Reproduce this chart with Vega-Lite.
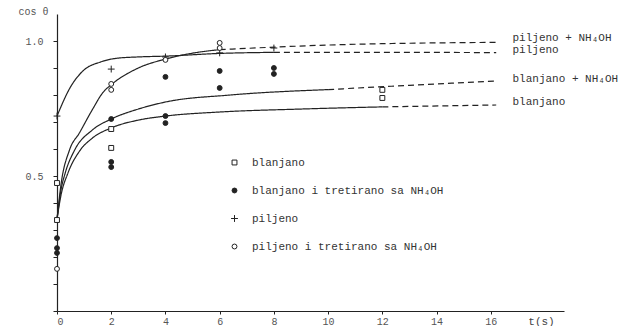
{
  "$schema": "https://vega.github.io/schema/vega-lite/v6.json",
  "width": 507,
  "height": 297,
  "autosize": {"type": "none"},
  "padding": {"left": 57, "top": 14, "right": 74, "bottom": 15},
  "background": "white",
  "config": {"view": {"stroke": null}, "font": "Liberation Mono"},
  "datasets": {
    "curves": [
      {"series": "piljeno", "part": "solid", "t": 0, "v": 0.722},
      {"series": "piljeno", "part": "solid", "t": 0.5, "v": 0.83},
      {"series": "piljeno", "part": "solid", "t": 1.0, "v": 0.893},
      {"series": "piljeno", "part": "solid", "t": 1.6, "v": 0.922},
      {"series": "piljeno", "part": "solid", "t": 2.2, "v": 0.936},
      {"series": "piljeno", "part": "solid", "t": 3.0, "v": 0.941},
      {"series": "piljeno", "part": "solid", "t": 4.0, "v": 0.944},
      {"series": "piljeno", "part": "solid", "t": 6.0, "v": 0.954},
      {"series": "piljeno", "part": "solid", "t": 8.0, "v": 0.958},
      {"series": "piljeno", "part": "dashed", "t": 8.0, "v": 0.958},
      {"series": "piljeno", "part": "dashed", "t": 12.0, "v": 0.958},
      {"series": "piljeno", "part": "dashed", "t": 16.2, "v": 0.957},
      {"series": "piljeno NH4OH", "part": "solid", "t": 0, "v": 0.34},
      {"series": "piljeno NH4OH", "part": "solid", "t": 0.15, "v": 0.47},
      {"series": "piljeno NH4OH", "part": "solid", "t": 0.46, "v": 0.596},
      {"series": "piljeno NH4OH", "part": "solid", "t": 0.83, "v": 0.66},
      {"series": "piljeno NH4OH", "part": "solid", "t": 1.3, "v": 0.745},
      {"series": "piljeno NH4OH", "part": "solid", "t": 1.7, "v": 0.81},
      {"series": "piljeno NH4OH", "part": "solid", "t": 2.0, "v": 0.838},
      {"series": "piljeno NH4OH", "part": "solid", "t": 3.0, "v": 0.9},
      {"series": "piljeno NH4OH", "part": "solid", "t": 4.0, "v": 0.933},
      {"series": "piljeno NH4OH", "part": "solid", "t": 5.0, "v": 0.955},
      {"series": "piljeno NH4OH", "part": "solid", "t": 6.0, "v": 0.968},
      {"series": "piljeno NH4OH", "part": "dashed", "t": 6.0, "v": 0.968},
      {"series": "piljeno NH4OH", "part": "dashed", "t": 10.0, "v": 0.985},
      {"series": "piljeno NH4OH", "part": "dashed", "t": 16.2, "v": 0.995},
      {"series": "blanjano NH4OH", "part": "solid", "t": 0, "v": 0.34},
      {"series": "blanjano NH4OH", "part": "solid", "t": 0.15, "v": 0.45},
      {"series": "blanjano NH4OH", "part": "solid", "t": 0.3, "v": 0.51},
      {"series": "blanjano NH4OH", "part": "solid", "t": 0.65, "v": 0.596},
      {"series": "blanjano NH4OH", "part": "solid", "t": 1.3, "v": 0.67},
      {"series": "blanjano NH4OH", "part": "solid", "t": 2.0, "v": 0.711},
      {"series": "blanjano NH4OH", "part": "solid", "t": 3.0, "v": 0.748},
      {"series": "blanjano NH4OH", "part": "solid", "t": 4.0, "v": 0.774},
      {"series": "blanjano NH4OH", "part": "solid", "t": 6.4, "v": 0.8},
      {"series": "blanjano NH4OH", "part": "solid", "t": 10.0, "v": 0.82},
      {"series": "blanjano NH4OH", "part": "dashed", "t": 10.0, "v": 0.82},
      {"series": "blanjano NH4OH", "part": "dashed", "t": 13.0, "v": 0.836},
      {"series": "blanjano NH4OH", "part": "dashed", "t": 16.2, "v": 0.852},
      {"series": "blanjano", "part": "solid", "t": 0, "v": 0.34},
      {"series": "blanjano", "part": "solid", "t": 0.15, "v": 0.43},
      {"series": "blanjano", "part": "solid", "t": 0.4, "v": 0.51},
      {"series": "blanjano", "part": "solid", "t": 0.83, "v": 0.592},
      {"series": "blanjano", "part": "solid", "t": 1.3, "v": 0.64},
      {"series": "blanjano", "part": "solid", "t": 2.0, "v": 0.678},
      {"series": "blanjano", "part": "solid", "t": 3.0, "v": 0.707},
      {"series": "blanjano", "part": "solid", "t": 4.0, "v": 0.722},
      {"series": "blanjano", "part": "solid", "t": 6.0, "v": 0.737},
      {"series": "blanjano", "part": "solid", "t": 9.0, "v": 0.748},
      {"series": "blanjano", "part": "solid", "t": 12.0, "v": 0.756},
      {"series": "blanjano", "part": "dashed", "t": 12.0, "v": 0.756},
      {"series": "blanjano", "part": "dashed", "t": 16.2, "v": 0.763}
    ],
    "points": [
      {"series": "blanjano", "t": 0, "v": 0.474},
      {"series": "blanjano", "t": 0, "v": 0.337},
      {"series": "blanjano", "t": 2, "v": 0.674},
      {"series": "blanjano", "t": 2, "v": 0.604},
      {"series": "blanjano", "t": 12, "v": 0.819},
      {"series": "blanjano", "t": 12, "v": 0.789},
      {"series": "blanjano i tretirano sa NH₄OH", "t": 0, "v": 0.27},
      {"series": "blanjano i tretirano sa NH₄OH", "t": 0, "v": 0.233},
      {"series": "blanjano i tretirano sa NH₄OH", "t": 0, "v": 0.215},
      {"series": "blanjano i tretirano sa NH₄OH", "t": 2, "v": 0.711},
      {"series": "blanjano i tretirano sa NH₄OH", "t": 2, "v": 0.552},
      {"series": "blanjano i tretirano sa NH₄OH", "t": 2, "v": 0.533},
      {"series": "blanjano i tretirano sa NH₄OH", "t": 4, "v": 0.867},
      {"series": "blanjano i tretirano sa NH₄OH", "t": 4, "v": 0.722},
      {"series": "blanjano i tretirano sa NH₄OH", "t": 4, "v": 0.696},
      {"series": "blanjano i tretirano sa NH₄OH", "t": 6, "v": 0.889},
      {"series": "blanjano i tretirano sa NH₄OH", "t": 6, "v": 0.826},
      {"series": "blanjano i tretirano sa NH₄OH", "t": 8, "v": 0.9},
      {"series": "blanjano i tretirano sa NH₄OH", "t": 8, "v": 0.878},
      {"series": "piljeno", "t": 0, "v": 0.722},
      {"series": "piljeno", "t": 2, "v": 0.896},
      {"series": "piljeno", "t": 4, "v": 0.941},
      {"series": "piljeno", "t": 6, "v": 0.956},
      {"series": "piljeno", "t": 8, "v": 0.974},
      {"series": "piljeno i tretirano sa NH₄OH", "t": 0, "v": 0.156},
      {"series": "piljeno i tretirano sa NH₄OH", "t": 2, "v": 0.841},
      {"series": "piljeno i tretirano sa NH₄OH", "t": 2, "v": 0.819},
      {"series": "piljeno i tretirano sa NH₄OH", "t": 4, "v": 0.93},
      {"series": "piljeno i tretirano sa NH₄OH", "t": 6, "v": 0.993},
      {"series": "piljeno i tretirano sa NH₄OH", "t": 6, "v": 0.974}
    ],
    "labels": [
      {"label": "piljeno + NH₄OH", "t": 16.8, "v": 1.012},
      {"label": "piljeno", "t": 16.8, "v": 0.965},
      {"label": "blanjano + NH₄OH", "t": 16.8, "v": 0.859},
      {"label": "blanjano", "t": 16.8, "v": 0.774}
    ]
  },
  "encoding": {
    "x": {
      "field": "t", "type": "quantitative",
      "scale": {"domain": [0, 18.7], "nice": false, "zero": false},
      "axis": {
        "values": [0, 2, 4, 6, 8, 10, 12, 14, 16], "format": "d", "grid": false,
        "domainColor": "#222", "domainWidth": 1.2, "tickColor": "#222", "tickSize": 3,
        "labelFont": "Liberation Mono", "labelFontSize": 10, "labelColor": "#555", "labelPadding": 2,
        "title": "t(s)", "titleX": 484, "titleY": 10, "titleFont": "Liberation Mono", "titleFontSize": 11,
        "titleFontWeight": "normal", "titleColor": "#444", "titleBaseline": "middle", "titleAlign": "center"
      }
    },
    "y": {
      "field": "v", "type": "quantitative",
      "scale": {"domain": [0, 1.1], "nice": false},
      "axis": {
        "values": [0, 0.1, 0.2, 0.3, 0.4, 0.5, 0.6, 0.7, 0.8, 0.9, 1.0],
        "labelExpr": "datum.value == 0.5 ? '0.5' : (datum.value == 1 ? '1.0' : '')",
        "grid": false, "domainColor": "#222", "domainWidth": 1.2, "tickColor": "#222", "tickSize": 4,
        "labelFont": "Liberation Mono", "labelFontSize": 10, "labelColor": "#555", "labelPadding": 10,
        "title": "cos θ", "titleAngle": 0, "titleX": -24, "titleY": -3, "titleFont": "Liberation Mono",
        "titleFontSize": 10, "titleFontWeight": "normal", "titleColor": "#555", "titleBaseline": "middle", "titleAlign": "center"
      }
    }
  },
  "layer": [
    {
      "data": {"name": "curves"},
      "mark": {"type": "line", "interpolate": "monotone", "stroke": "#222", "strokeWidth": 1.2},
      "encoding": {
        "detail": {"field": "series"},
        "strokeDash": {"field": "part", "type": "nominal", "scale": {"domain": ["solid", "dashed"], "range": [[1, 0], [6, 4]]}, "legend": null}
      }
    },
    {
      "data": {"name": "points"},
      "mark": {"type": "point", "strokeWidth": 1, "opacity": 1, "size": 24},
      "encoding": {
        "shape": {
          "field": "series", "type": "nominal",
          "scale": {
            "domain": ["blanjano", "blanjano i tretirano sa NH₄OH", "piljeno", "piljeno i tretirano sa NH₄OH"],
            "range": ["square", "circle", "M-1.4,0L1.4,0M0,-1.4L0,1.4", "circle"]
          },
          "legend": {
            "orient": "none", "legendX": 172, "legendY": 143, "title": null, "labelLimit": 0,
            "labelFont": "Liberation Mono", "labelFontSize": 11, "labelColor": "#333", "rowPadding": 16,
            "symbolSize": 24, "symbolStrokeWidth": 1, "labelOffset": 12
          }
        },
        "fill": {
          "field": "series", "type": "nominal",
          "scale": {
            "domain": ["blanjano", "blanjano i tretirano sa NH₄OH", "piljeno", "piljeno i tretirano sa NH₄OH"],
            "range": ["white", "#222", "#222", "white"]
          },
          "legend": {
            "orient": "none", "legendX": 172, "legendY": 143, "title": null, "labelLimit": 0,
            "labelFont": "Liberation Mono", "labelFontSize": 11, "labelColor": "#333", "rowPadding": 16,
            "symbolSize": 24, "symbolStrokeWidth": 1, "labelOffset": 12
          }
        },
        "stroke": {
          "field": "series", "type": "nominal",
          "scale": {
            "domain": ["blanjano", "blanjano i tretirano sa NH₄OH", "piljeno", "piljeno i tretirano sa NH₄OH"],
            "range": ["#222", "#222", "#222", "#222"]
          },
          "legend": {
            "orient": "none", "legendX": 172, "legendY": 143, "title": null, "labelLimit": 0,
            "labelFont": "Liberation Mono", "labelFontSize": 11, "labelColor": "#333", "rowPadding": 16,
            "symbolSize": 24, "symbolStrokeWidth": 1, "labelOffset": 12
          }
        }
      }
    },
    {
      "data": {"name": "labels"},
      "mark": {"type": "text", "align": "left", "baseline": "middle", "font": "Liberation Mono", "fontSize": 11, "fill": "#333"},
      "encoding": {"text": {"field": "label"}}
    }
  ]
}
